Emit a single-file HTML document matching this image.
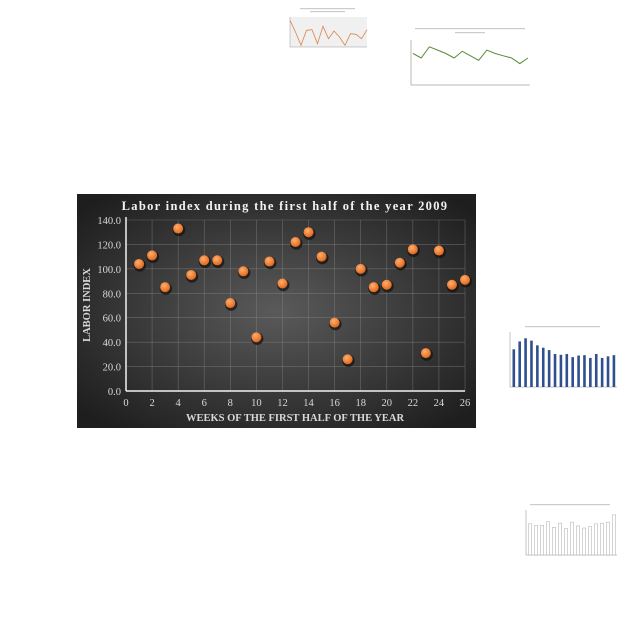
<!DOCTYPE html>
<html><head><meta charset="utf-8"><style>
html,body{margin:0;padding:0;background:#fff;width:640px;height:640px;overflow:hidden}
svg{display:block}
text{font-family:"Liberation Serif",serif}
</style></head><body>
<svg id="s" width="640" height="640" xmlns="http://www.w3.org/2000/svg">
<defs>
<radialGradient id="bg" cx="50%" cy="50%" r="65%">
<stop offset="0" stop-color="#5a5a5a"/><stop offset="1" stop-color="#1e1e1e"/>
</radialGradient>
<radialGradient id="dot" cx="40%" cy="35%" r="65%">
<stop offset="0" stop-color="#ffb070"/><stop offset="1" stop-color="#e2661a"/>
</radialGradient>
</defs>
<g id="thumbs"></g>
<rect x="77" y="194" width="399" height="234" fill="url(#bg)"/>
<text x="285" y="210" fill="#f2f2f2" font-size="12.5" font-weight="bold" letter-spacing="1.3" text-anchor="middle">Labor index during the first half of the year 2009</text>
<g id="grid"></g>
<g id="axes"></g>
<g id="pts"></g>
<text x="295" y="421" fill="#d9d9d9" font-size="10.5" font-weight="bold" text-anchor="middle">WEEKS OF THE FIRST HALF OF THE YEAR</text>
<text transform="translate(90,305) rotate(-90)" fill="#d9d9d9" font-size="10.5" font-weight="bold" text-anchor="middle">LABOR INDEX</text>
</svg>
<script>
const weeks=[1,2,3,4,5,6,7,8,9,10,11,12,13,14,15,16,17,18,19,20,21,22,23,24,25,26];
const laborIndex=[104,111,85,133,95,107,107,72,98,44,106,88,122,130,110,56,26,100,85,87,105,116,31,115,87,91];
const xTicks=[0,2,4,6,8,10,12,14,16,18,20,22,24,26];
const yTicks=[0,20,40,60,80,100,120,140];
const thumbLine=[80,45,5,50,52,10,62,25,48,30,5,40,38,25,52];
const thumbGreen=[14,12,17,15.5,14,12,15,13,11,15.5,14,13,12,9.5,12];
const thumbBars=[480,580,620,590,530,500,470,420,410,420,380,400,405,370,420,370,390,405];
const thumbBars2=[90,85,86,96,80,92,76,95,84,78,82,90,92,95,116];
const NS="http://www.w3.org/2000/svg";
function el(t,a,p){const e=document.createElementNS(NS,t);for(const k in a)e.setAttribute(k,a[k]);p.appendChild(e);return e;}
const X0=126,X1=465,Y0=391,Y1=220;
const xs=v=>X0+(v-0)/26*(X1-X0);
const ys=v=>Y0-(v/140)*(Y0-Y1);
const grid=document.getElementById('grid'),axes=document.getElementById('axes'),pts=document.getElementById('pts');
yTicks.forEach(v=>{
 const l=el('line',{x1:X0,x2:X1,y1:ys(v),y2:ys(v),stroke:'#8a8a8a','stroke-width':0.6,'stroke-opacity':0.6},grid);
 
 const t=el('text',{x:X0-5,y:ys(v)+4,fill:'#d9d9d9','font-size':10.5,'text-anchor':'end'},axes);
 t.textContent=v.toFixed(1);
 
});
xTicks.forEach(v=>{
 if(v>0){const l=el('line',{x1:xs(v),x2:xs(v),y1:Y1,y2:Y0,stroke:'#8a8a8a','stroke-width':0.6,'stroke-opacity':0.6},grid);
 }
 const t=el('text',{x:xs(v),y:Y0+15,fill:'#d9d9d9','font-size':10.5,'text-anchor':'middle'},axes);
 t.textContent=v;
 
});
let a=el('line',{x1:X0,x2:X0,y1:Y1-3,y2:Y0,stroke:'#f2f2f2','stroke-width':1.5},axes);

a=el('line',{x1:X0,x2:X1,y1:Y0,y2:Y0,stroke:'#f2f2f2','stroke-width':1.5},axes);

weeks.forEach((w,i)=>{
 const s=el('circle',{cx:xs(w)+0.8,cy:ys(laborIndex[i])+1.5,r:6.2,fill:'#111','fill-opacity':0.7},pts);
 
 const c=el('circle',{cx:xs(w),cy:ys(laborIndex[i]),r:5,fill:'url(#dot)'},pts);
 
});
// thumbnails
const th=document.getElementById('thumbs');
// thumb 1: orange line
el('rect',{x:290,y:17,width:77,height:30,fill:'#f0f0f0'},th);
el('line',{x1:290,x2:290,y1:17,y2:47,stroke:'#999','stroke-width':0.5},th);
el('line',{x1:290,x2:367,y1:47,y2:47,stroke:'#999','stroke-width':0.5},th);
let p1=thumbLine.map((v,i)=>(290+i*(77/(thumbLine.length-1))).toFixed(1)+','+(47-v/90*30).toFixed(1)).join(' ');
let e=el('polyline',{points:p1,fill:'none',stroke:'#d9834a','stroke-width':0.8},th);

el('rect',{x:300,y:8,width:55,height:1.2,fill:'#ccc'},th);
el('rect',{x:310,y:11,width:35,height:1.2,fill:'#ccc'},th);
// thumb 2: green line
el('line',{x1:411,x2:411,y1:40,y2:85,stroke:'#777','stroke-width':0.5},th);
el('line',{x1:411,x2:530,y1:85,y2:85,stroke:'#777','stroke-width':0.5},th);
let p2=thumbGreen.map((v,i)=>(413+i*(115/(thumbGreen.length-1))).toFixed(1)+','+(85-v/20*45).toFixed(1)).join(' ');
e=el('polyline',{points:p2,fill:'none',stroke:'#5a8a3a','stroke-width':1},th);

el('rect',{x:415,y:28,width:110,height:1.2,fill:'#ccc'},th);
el('rect',{x:455,y:32,width:30,height:1.2,fill:'#ccc'},th);
// thumb 3: blue bars
el('line',{x1:510,x2:510,y1:332,y2:387,stroke:'#888','stroke-width':0.5},th);
el('line',{x1:510,x2:617,y1:387,y2:387,stroke:'#888','stroke-width':0.5},th);
thumbBars.forEach((v,i)=>{const b=el('rect',{x:511+i*(106/18)+1.5,y:387-v/700*55,width:2.6,height:v/700*55,fill:'#2f4f8f'},th);
 });
el('rect',{x:525,y:326,width:75,height:1.2,fill:'#ccc'},th);
// thumb 4: outlined bars
el('line',{x1:526,x2:526,y1:510,y2:555,stroke:'#888','stroke-width':0.5},th);
el('line',{x1:526,x2:617,y1:555,y2:555,stroke:'#888','stroke-width':0.5},th);
thumbBars2.forEach((v,i)=>{const b=el('rect',{x:527+i*(90/15)+1.5,y:555-v/130*45,width:3.2,height:v/130*45,fill:'#fff',stroke:'#aaa','stroke-width':0.5},th);
 });
el('rect',{x:530,y:504,width:80,height:1.2,fill:'#ccc'},th);
</script>
</body></html>
